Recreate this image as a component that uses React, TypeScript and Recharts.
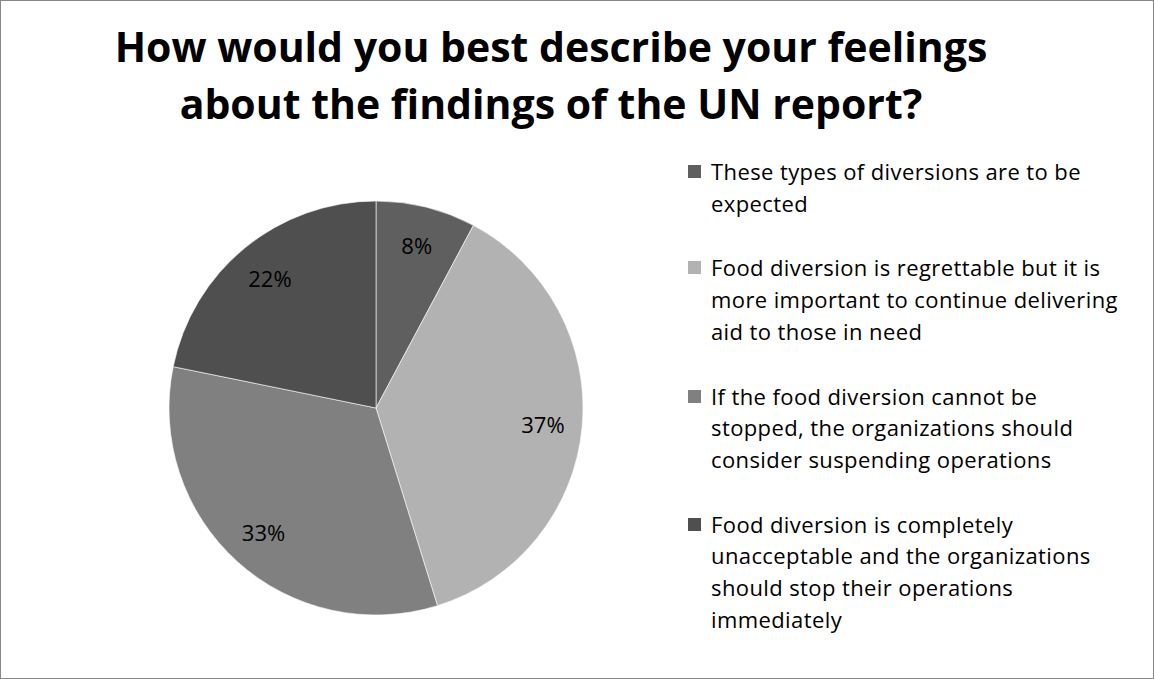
import React from 'react';
import { PieChart, Pie, Cell, Legend } from 'recharts';

const TITLE_LINES = ['How would you best describe your feelings', 'about the findings of the UN report?'];

const categories = [
  'These types of diversions are to be expected',
  'Food diversion is regrettable but it is more important to continue delivering aid to those in need',
  'If the food diversion cannot be stopped, the organizations should consider suspending operations',
  'Food diversion is completely unacceptable and the organizations should stop their operations immediately',
];

// legend wrapping as in the picture
const legendLines = [
  ['These types of diversions are to be', 'expected'],
  ['Food diversion is regrettable but it is', 'more important to continue delivering', 'aid to those in need'],
  ['If the food diversion cannot be', 'stopped, the organizations should', 'consider suspending operations'],
  ['Food diversion is completely', 'unacceptable and the organizations', 'should stop their operations', 'immediately'],
];

const shares = [7.8, 37.4, 33.0, 21.8];
const colors = ['#5f5f5f', '#b2b2b2', '#808080', '#4f4f4f'];

const data = categories.map((name, i) => ({ name, value: shares[i] }));

const FONT = '"Open Sans", Lato, sans-serif';
const RAD = Math.PI / 180;

function renderLabel(props: any) {
  const { cx, cy, midAngle, outerRadius, percent } = props;
  const r = outerRadius * 0.81;
  const x = cx + r * Math.cos(-midAngle * RAD);
  const y = cy + r * Math.sin(-midAngle * RAD);
  return (
    <text x={x} y={y} fill="#000" fontSize={22} fontFamily={FONT} textAnchor="middle" dominantBaseline="central">
      {Math.round(percent * 100)}%
    </text>
  );
}

function LegendBox() {
  return (
    <div style={{ fontFamily: FONT, fontSize: 22, letterSpacing: 0.4, color: '#000', lineHeight: '31.7px' }}>
      {legendLines.map((lines, i) => (
        <div key={i} style={{ display: 'flex', alignItems: 'flex-start', marginBottom: 33 }}>
          <div style={{ width: 13, height: 13, background: colors[i], marginTop: 9, marginRight: 10, flexShrink: 0 }} />
          <div>
            {lines.map((l, j) => (
              <div key={j}>{l}</div>
            ))}
          </div>
        </div>
      ))}
    </div>
  );
}

export default function App() {
  return (
    <div style={{ position: 'absolute', left: 0, top: 0, width: 1152, height: 677, border: '1px solid #888', background: '#fff' }}>
      <div
        style={{
          position: 'absolute',
          left: 0,
          top: 17,
          width: 1100,
          textAlign: 'center',
          fontFamily: FONT,
          fontWeight: 700,
          fontSize: 41,
          lineHeight: '57px',
          color: '#000',
        }}
      >
        {TITLE_LINES.map((t) => (
          <div key={t}>{t}</div>
        ))}
      </div>
      <PieChart
        width={1152}
        height={677}
        margin={{ top: 0, right: 0, bottom: 0, left: 0 }}
        style={{ position: 'absolute', left: 0, top: 0 }}
      >
        <Pie
          data={data}
          dataKey="value"
          nameKey="name"
          cx={375}
          cy={407}
          outerRadius={207}
          startAngle={90}
          endAngle={-270}
          stroke="#ffffff"
          strokeWidth={0.6}
          label={renderLabel}
          labelLine={false}
          isAnimationActive={false}
        >
          {data.map((d, i) => (
            <Cell key={d.name} fill={colors[i]} />
          ))}
        </Pie>
        <Legend
          content={<LegendBox />}
          wrapperStyle={{ position: 'absolute', left: 687, top: 155, width: 460 }}
        />
      </PieChart>
    </div>
  );
}
